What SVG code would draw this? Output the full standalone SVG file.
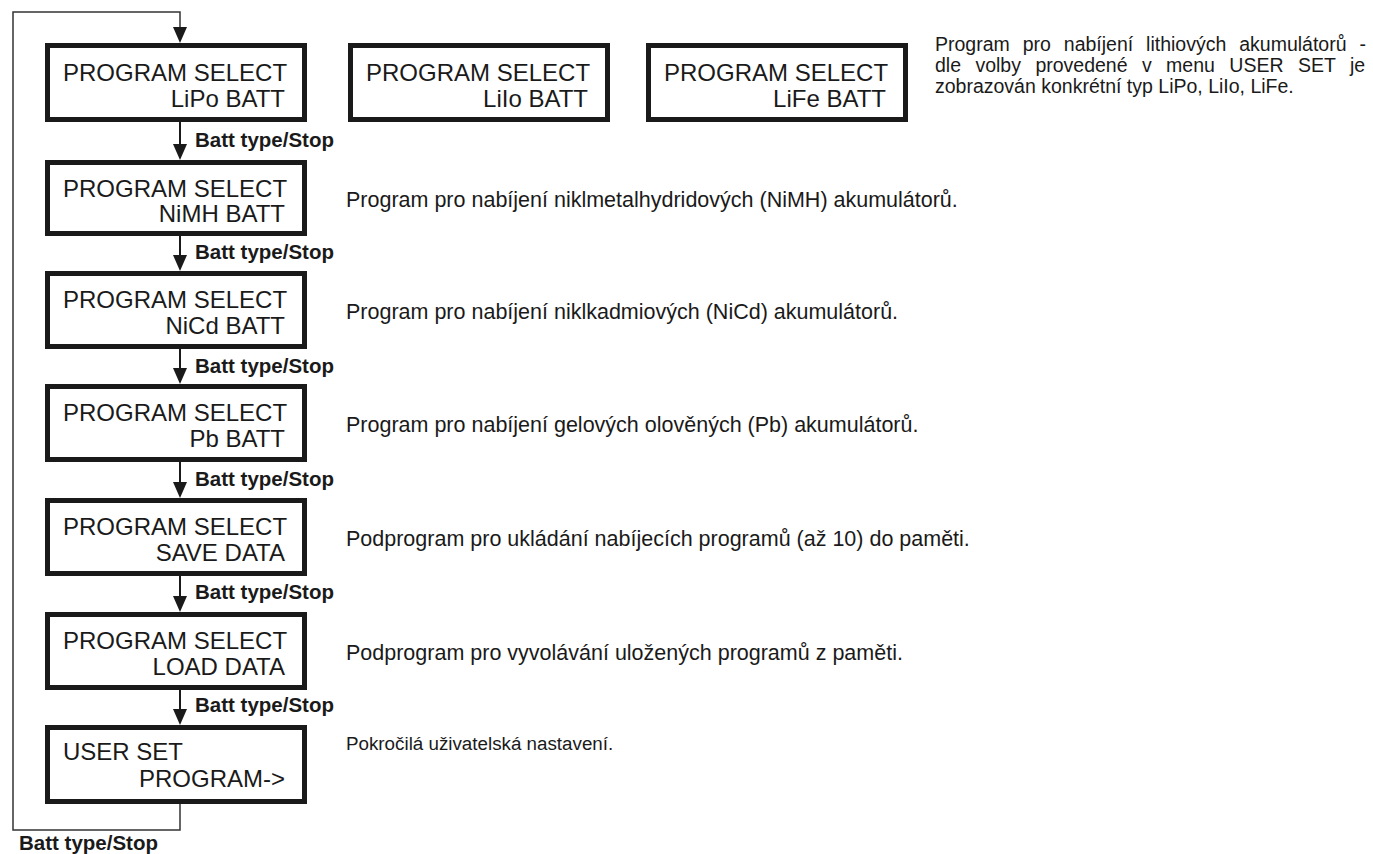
<svg xmlns="http://www.w3.org/2000/svg" width="1373" height="854" viewBox="0 0 1373 854">
<style>
.box{fill:#fff;stroke:#1a1a1a;stroke-width:5}
.bt{font-family:"Liberation Sans",Arial,sans-serif;font-size:24px;fill:#1a1a1a}
.r{text-anchor:end}
.lbl{font-family:"Liberation Sans",Arial,sans-serif;font-size:20.5px;font-weight:bold;fill:#1a1a1a}
.d{font-family:"Liberation Sans",Arial,sans-serif;font-size:21.5px;fill:#1a1a1a}
.d2{font-family:"Liberation Sans",Arial,sans-serif;font-size:19.5px;fill:#1a1a1a}
.d3{font-family:"Liberation Sans",Arial,sans-serif;font-size:18.8px;fill:#1a1a1a}
.ln{fill:none;stroke:#1a1a1a;stroke-width:2}
.loop{fill:none;stroke:#333;stroke-width:1.5}
.ah{fill:#1a1a1a}
</style>
<rect width="1373" height="854" fill="#fff"/>
<g id="connectors">
<path class="loop" d="M180,804 V830 H13 V12 H180 V28"/>
<polygon class="ah" points="173,27 187,27 180,43"/>
<line class="ln" x1="180" y1="121" x2="180" y2="146"/>
<polygon class="ah" points="173,144 187,144 180,160"/>
<line class="ln" x1="180" y1="236" x2="180" y2="257"/>
<polygon class="ah" points="173,255 187,255 180,271"/>
<line class="ln" x1="180" y1="349" x2="180" y2="370"/>
<polygon class="ah" points="173,368 187,368 180,384"/>
<line class="ln" x1="180" y1="462" x2="180" y2="484"/>
<polygon class="ah" points="173,482 187,482 180,498"/>
<line class="ln" x1="180" y1="576" x2="180" y2="598"/>
<polygon class="ah" points="173,596 187,596 180,612"/>
<line class="ln" x1="180" y1="690" x2="180" y2="711"/>
<polygon class="ah" points="173,709 187,709 180,725"/>
<text class="lbl" x="195" y="147">Batt type/Stop</text>
<text class="lbl" x="195" y="259">Batt type/Stop</text>
<text class="lbl" x="195" y="373">Batt type/Stop</text>
<text class="lbl" x="195" y="486">Batt type/Stop</text>
<text class="lbl" x="195" y="599">Batt type/Stop</text>
<text class="lbl" x="195" y="712">Batt type/Stop</text>
<text class="lbl" x="19" y="850">Batt type/Stop</text>
</g>
<g id="lipo">
<rect class="box" x="47.5" y="45.5" width="257" height="74"/>
<text class="bt" x="63" y="81">PROGRAM SELECT</text>
<text class="bt r" x="285" y="107">LiPo BATT</text>
</g>
<g id="liio">
<rect class="box" x="350.5" y="45.5" width="257" height="74"/>
<text class="bt" x="366" y="81">PROGRAM SELECT</text>
<text class="bt r" x="588" y="107">LiIo BATT</text>
</g>
<g id="life">
<rect class="box" x="648.5" y="45.5" width="257" height="74"/>
<text class="bt" x="664" y="81">PROGRAM SELECT</text>
<text class="bt r" x="886" y="107">LiFe BATT</text>
</g>
<g id="lithium-note">
<text class="d2" x="935" y="51" word-spacing="7.5">Program pro nabíjení lithiových akumulátorů -</text>
<text class="d2" x="935" y="72" word-spacing="9">dle volby provedené v menu USER SET je</text>
<text class="d2" x="935" y="93">zobrazován konkrétní typ LiPo, LiIo, LiFe.</text>
</g>
<g id="nimh">
<rect class="box" x="47.5" y="162.5" width="257" height="71"/>
<text class="bt" x="63" y="197">PROGRAM SELECT</text>
<text class="bt r" x="285" y="222">NiMH BATT</text>
<text class="d" x="346" y="207">Program pro nabíjení niklmetalhydridových (NiMH) akumulátorů.</text>
</g>
<g id="nicd">
<rect class="box" x="47.5" y="273.5" width="257" height="73"/>
<text class="bt" x="63" y="308">PROGRAM SELECT</text>
<text class="bt r" x="285" y="334">NiCd BATT</text>
<text class="d" x="346" y="319">Program pro nabíjení niklkadmiových (NiCd) akumulátorů.</text>
</g>
<g id="pb">
<rect class="box" x="47.5" y="386.5" width="257" height="73"/>
<text class="bt" x="63" y="421">PROGRAM SELECT</text>
<text class="bt r" x="285" y="447">Pb BATT</text>
<text class="d" x="346" y="432">Program pro nabíjení gelových olověných (Pb) akumulátorů.</text>
</g>
<g id="save">
<rect class="box" x="47.5" y="500.5" width="257" height="73"/>
<text class="bt" x="63" y="535">PROGRAM SELECT</text>
<text class="bt r" x="285" y="561">SAVE DATA</text>
<text class="d" x="346" y="546">Podprogram pro ukládání nabíjecích programů (až 10) do paměti.</text>
</g>
<g id="load">
<rect class="box" x="47.5" y="614.5" width="257" height="73"/>
<text class="bt" x="63" y="649">PROGRAM SELECT</text>
<text class="bt r" x="285" y="675">LOAD DATA</text>
<text class="d" x="346" y="660">Podprogram pro vyvolávání uložených programů z paměti.</text>
</g>
<g id="userset">
<rect class="box" x="47.5" y="727.5" width="257" height="74"/>
<text class="bt" x="63" y="760">USER SET</text>
<text class="bt r" x="285" y="787">PROGRAM-&gt;</text>
<text class="d3" x="346" y="750">Pokročilá uživatelská nastavení.</text>
</g>
</svg>
